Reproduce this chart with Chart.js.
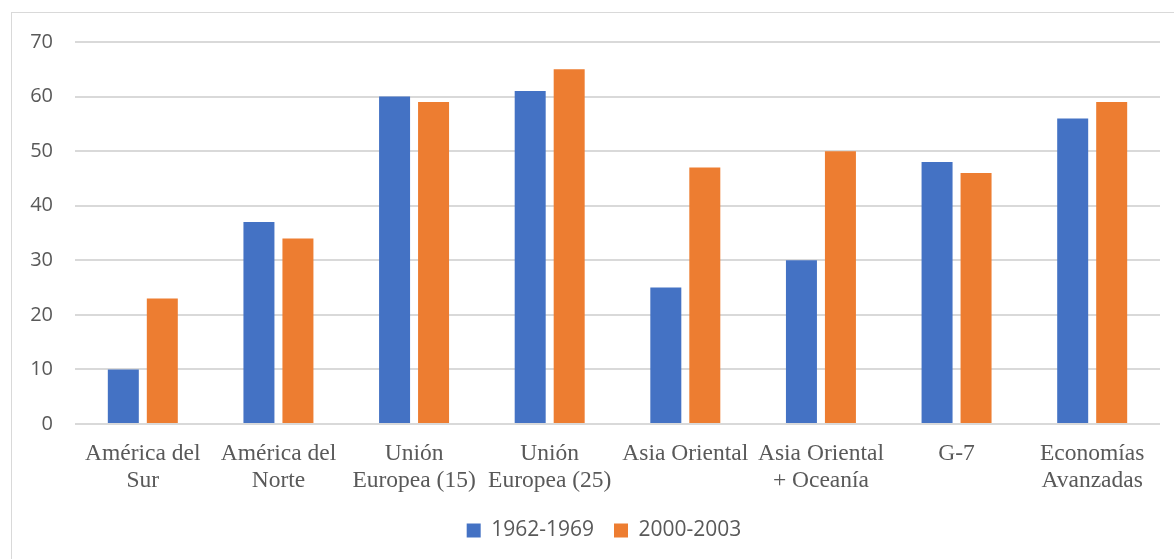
<!DOCTYPE html>
<html>
<head>
<meta charset="utf-8">
<script src="https://cdn.jsdelivr.net/npm/chart.js@4"></script>
<style>
html,body{margin:0;padding:0;background:#fff;overflow:hidden;}
#frame{position:absolute;left:11px;top:12px;width:1200px;height:600px;border:1px solid #d9d9d9;box-sizing:border-box;}
#wrap{position:absolute;left:0;top:0;width:1174px;height:559px;}
</style>
</head>
<body>
<div id="frame"></div>
<div id="wrap"><canvas id="c" width="1174" height="559"></canvas></div>
<script>
const categories = [
  ["América del","Sur"],
  ["América del","Norte"],
  ["Unión","Europea (15)"],
  ["Unión","Europea (25)"],
  ["Asia Oriental"],
  ["Asia Oriental","+ Oceanía"],
  ["G-7"],
  ["Economías","Avanzadas"]
];
const series1Label = "1962-1969";
const series2Label = "2000-2003";
const series1 = [10, 37, 60, 61, 25, 30, 48, 56];
const series2 = [23, 34, 59, 65, 47, 50, 46, 59];
const yTicks = [0, 10, 20, 30, 40, 50, 60, 70];

const legendShift = {
  id: 'legendShift',
  afterUpdate(chart) {
    if (chart.legend) { chart.legend.left += 24; chart.legend.right += 24; }
  }
};

new Chart(document.getElementById('c'), {
  type: 'bar',
  data: {
    labels: categories,
    datasets: [
      {label: series1Label, data: series1, backgroundColor: '#4472c4', categoryPercentage: 0.575, barPercentage: 0.795},
      {label: series2Label, data: series2, backgroundColor: '#ed7d31', categoryPercentage: 0.575, barPercentage: 0.795}
    ]
  },
  plugins: [legendShift],
  options: {
    responsive: false,
    animation: false,
    layout: {padding: {left: 0, right: 14, top: 42, bottom: 8}},
    plugins: {
      tooltip: {enabled: false},
      legend: {
        position: 'bottom',
        labels: {
          font: {family: 'Open Sans, Liberation Sans, sans-serif', size: 21},
          color: '#595959',
          boxWidth: 14, boxHeight: 14, padding: 20
        }
      }
    },
    scales: {
      x: {
        grid: {display: false, drawTicks: false},
        border: {display: false},
        ticks: {
          font: {family: 'Liberation Serif, serif', size: 23.5, lineHeight: 1.15},
          color: '#595959', padding: 16, maxRotation: 0, autoSkip: false
        },
        afterFit: s => { s.height = 76; }
      },
      y: {
        min: 0, max: 70,
        afterBuildTicks: s => { s.ticks = yTicks.map(v => ({value: v})); },
        grid: {color: '#d9d9d9', lineWidth: 2, drawTicks: false},
        border: {display: false},
        ticks: {
          font: {family: 'Open Sans, Liberation Sans, sans-serif', size: 20},
          color: '#595959', padding: 22
        },
        afterFit: s => { s.width = 75; }
      }
    }
  }
});
</script>
</body>
</html>
